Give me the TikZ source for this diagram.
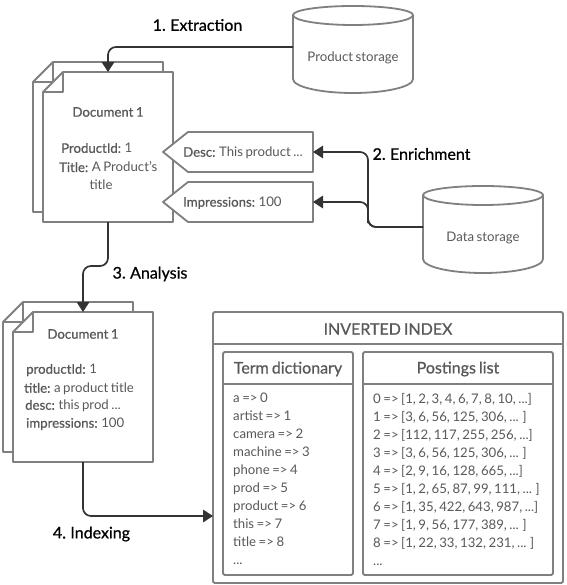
\documentclass[tikz,border=0pt]{standalone}
\usepackage{fontspec}
\setmainfont{Lato}[WordSpace=0.75]
\newfontfamily\semifont{Lato}[FakeBold=0.7,WordSpace=0.75]
\newfontfamily\labfont{Lato}[FakeBold=0.7,WordSpace=0.75]
\usetikzlibrary{arrows.meta}
\definecolor{edgegray}{HTML}{808080}
\definecolor{textgray}{HTML}{595959}
\definecolor{linkdark}{HTML}{333333}
\newcommand{\bodyfont}{\fontsize{13.2}{18}\selectfont}
\newcommand{\semi}[1]{{\semifont #1}}
\tikzset{
  x=1pt,y=-1pt,
  area/.style={rectangle,inner sep=0pt,outer sep=0pt,minimum width=#1},
  shapeline/.style={draw=edgegray,line width=1.8pt,fill=white,line join=round},
  link/.style={draw=linkdark,line width=1.7pt,rounded corners=8pt,-{Triangle[length=10pt,width=12.5pt]}},
  body/.style={text=textgray,font=\bodyfont,inner sep=0pt,anchor=west},
  bodyc/.style={text=textgray,font=\bodyfont,inner sep=0pt},
  head/.style={text=textgray,font=\fontsize{16}{18}\selectfont,inner sep=0pt},
  step label/.style={text=black,font=\fontsize{16}{18}\selectfont\labfont,inner sep=0pt},
  listing/.style={text=textgray,font=\bodyfont,inner sep=0pt,anchor=north west,align=left},
}
\begin{document}
\begin{tikzpicture}
\useasboundingbox (0,0) rectangle (566,585);
\fill[white] (0,0) rectangle (566,585);

% anchor rectangles
\node[area=130,minimum height=150] (doc1back) at (98,137) {};
\node[area=130,minimum height=150] (doc1) at (108,147) {};
\node[area=130,minimum height=150] (doc2back) at (68,377) {};
\node[area=140,minimum height=150] (doc2) at (83,387) {};
\node[area=120,minimum height=88] (prod) at (353,49) {};
\node[area=120,minimum height=88] (data) at (483,229) {};
\node[area=150,minimum height=40] (desc) at (238,152) {};
\node[area=150,minimum height=40] (impr) at (238,202) {};
\node[area=350,minimum height=271] (index) at (388,447.5) {};
\node[area=130,minimum height=223] (terms) at (288,463.5) {};
\node[area=190,minimum height=223] (posts) at (458,463.5) {};

% documents
\draw[shapeline] (doc1back.north west) ++(20,0) -- (doc1back.north east) -- (doc1back.south east) -- (doc1back.south west) -- ([yshift=-20pt]doc1back.north west) -- cycle;
\draw[shapeline,fill=none] ([yshift=-20pt]doc1back.north west) -- ++(20,0) -- ++(0,-20);
\draw[shapeline] (doc1.north west) ++(20,0) -- (doc1.north east) -- (doc1.south east) -- (doc1.south west) -- ([yshift=-20pt]doc1.north west) -- cycle;
\draw[shapeline,fill=none] ([yshift=-20pt]doc1.north west) -- ++(20,0) -- ++(0,-20);
\draw[shapeline] (doc2back.north west) ++(20,0) -- (doc2back.north east) -- (doc2back.south east) -- (doc2back.south west) -- ([yshift=-20pt]doc2back.north west) -- cycle;
\draw[shapeline,fill=none] ([yshift=-20pt]doc2back.north west) -- ++(20,0) -- ++(0,-20);
\draw[shapeline] (doc2.north west) ++(20,0) -- (doc2.north east) -- (doc2.south east) -- (doc2.south west) -- ([yshift=-20pt]doc2.north west) -- cycle;
\draw[shapeline,fill=none] ([yshift=-20pt]doc2.north west) -- ++(20,0) -- ++(0,-20);

% tags
\draw[shapeline] (desc.west) -- ([xshift=25pt]desc.north west) -- (desc.north east) -- (desc.south east) -- ([xshift=25pt]desc.south west) -- cycle;
\draw[shapeline] (impr.west) -- ([xshift=25pt]impr.north west) -- (impr.north east) -- (impr.south east) -- ([xshift=25pt]impr.south west) -- cycle;

% cylinders
\draw[shapeline] (prod.north west) ++(0,10) arc[start angle=180,end angle=360,x radius=60pt,y radius=10pt] -- ++(0,64) arc[start angle=0,end angle=-180,x radius=60pt,y radius=14pt] -- cycle;
\draw[shapeline,fill=none] (prod.north west) ++(0,10) arc[start angle=180,end angle=0,x radius=60pt,y radius=9pt];
\draw[shapeline] (data.north west) ++(0,10) arc[start angle=180,end angle=360,x radius=60pt,y radius=10pt] -- ++(0,64) arc[start angle=0,end angle=-180,x radius=60pt,y radius=14pt] -- cycle;
\draw[shapeline,fill=none] (data.north west) ++(0,10) arc[start angle=180,end angle=0,x radius=60pt,y radius=9pt];

% inverted index
\draw[shapeline,rounded corners=1.5pt] (index.north west) rectangle (index.south east);
\draw[shapeline] (index.west |- 0,344) -- (index.east |- 0,344);
\draw[shapeline,rounded corners=1.5pt] (terms.north west) rectangle (terms.south east);
\draw[shapeline] (terms.west |- 0,384) -- (terms.east |- 0,384);
\draw[shapeline,rounded corners=1.5pt] (posts.north west) rectangle (posts.south east);
\draw[shapeline] (posts.west |- 0,384) -- (posts.east |- 0,384);

% connectors
\draw[link] ([yshift=2pt]prod.west) -| (doc1.north);
\draw[link] ([yshift=2pt]data.west) -| (368,215) |- (impr.east);
\draw[link] ([yshift=2pt]data.west) -| (368,190) |- (desc.east);
\draw[link] (doc1.south) -- (108,266) -- (83,266) -- (doc2.north);
\draw[link] (doc2.south) |- (index.west |- 0,516);

% texts
\node[bodyc] (d1title) at (108,112) {\semi{Document 1}};
\node[body] (d1id) at (61,148) {\semi{ProductId:} 1};
\node[body] (d1t) at (59,167) {\semi{Title:} A Product's};
\node[bodyc] (d1t2) at (101,185) {title};
\node[body] (desctext) at (183,153) {\semi{Desc:} This product ...};
\node[body] (imprtext) at (183,203) {\semi{Impressions:} 100};
\node[bodyc] (prodtext) at (353,58) {Product storage};
\node[bodyc] (datatext) at (483,238) {Data storage};
\node[bodyc] (d2title) at (83,334) {\semi{Document 1}};
\node[body] (d2a) at (26,370) {\semi{productId:} 1};
\node[body] (d2b) at (24,389) {\semi{title:} a product title};
\node[body] (d2c) at (25,406) {\semi{desc:} this prod ...};
\node[body] (d2d) at (26,424) {\semi{impressions:} 100};
\node[step label] (s1) at (197.5,25) {1. Extraction};
\node[step label] (s2) at (421.5,154) {2. Enrichment};
\node[step label] (s3) at (150,274) {3. Analysis};
\node[step label] (s4) at (91.5,534) {4. Indexing};
\node[head] (idxhead) at (388,329) {\semi{INVERTED INDEX}};
\node[head] (termhead) at (288,369) {\semi{Term dictionary}};
\node[head] (posthead) at (458,369) {\semi{Postings list}};
\node[listing] (termlist) at (233,393) {a => 0\\artist => 1\\camera => 2\\machine => 3\\phone => 4\\prod => 5\\product => 6\\this => 7\\title => 8\\...};
\node[listing] (postlist) at (373,393) {0 => [1, 2, 3, 4, 6, 7, 8, 10, ...]\\1 => [3, 6, 56, 125, 306, ... ]\\2 => [112, 117, 255, 256, ...]\\3 => [3, 6, 56, 125, 306, ... ]\\4 => [2, 9, 16, 128, 665, ...]\\5 => [1, 2, 65, 87, 99, 111, ... ]\\6 => [1, 35, 422, 643, 987, ...]\\7 => [1, 9, 56, 177, 389, ... ]\\8 => [1, 22, 33, 132, 231, ... ]\\...};
\end{tikzpicture}
\end{document}
